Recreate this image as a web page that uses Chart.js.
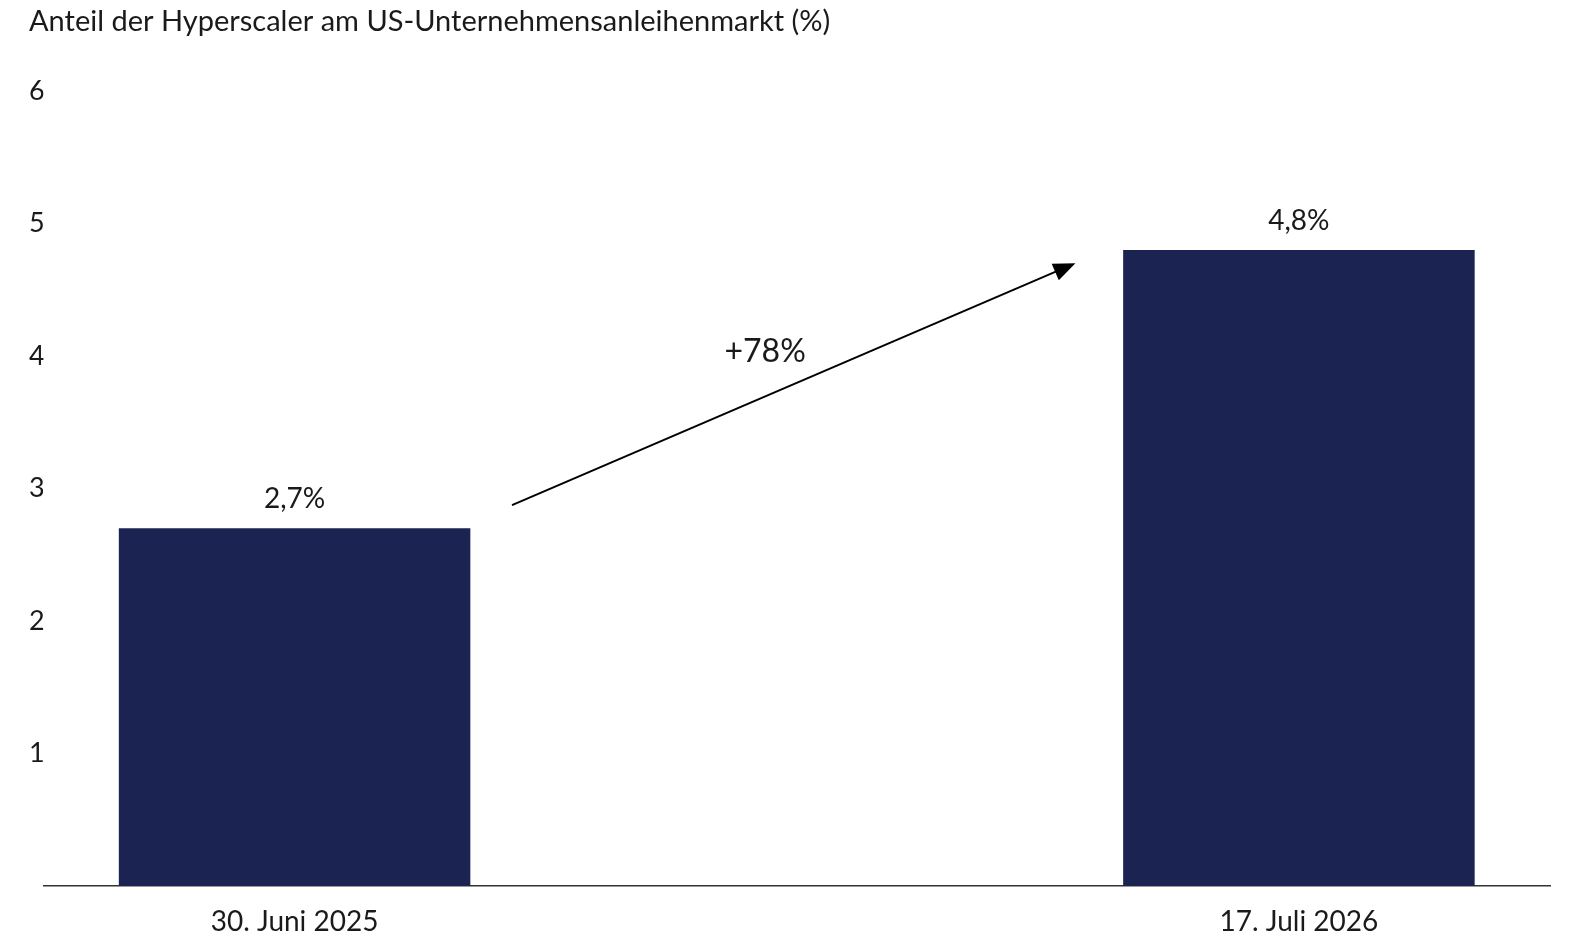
<!DOCTYPE html>
<html lang="de">
<head>
<meta charset="utf-8">
<title>Anteil der Hyperscaler</title>
<script src="https://cdn.jsdelivr.net/npm/chart.js@4.4.1/dist/chart.umd.min.js"></script>
<style>
    html, body { margin: 0; padding: 0; background: #fff; }
    #wrap { width: 1572px; height: 940px; }
</style>
</head>
<body>
<div id="wrap"><canvas id="hyperscalerChart" width="1572" height="940"></canvas></div>
<script>
// data
const titleText = 'Anteil der Hyperscaler am US-Unternehmensanleihenmarkt (%)';
const categories = ['30. Juni 2025', '', '17. Juli 2026'];
const shares = [2.7, null, 4.8];
const yTicks = [0, 1, 2, 3, 4, 5, 6];

// arrow annotation in data units: [category index, value]
const arrowFrom = [0.433, 2.874];
const arrowTo = [1.555, 4.70];
const changeLabel = '+78%';
const changeLabelAt = [0.937, 4.03];

const FONT = 'Lato, "Noto Sans", sans-serif';
const BAR_COLOR = '#1a2352';
const TEXT_COLOR = '#1a1a1a';

function fmt(v) {
    return v.toFixed(1).replace('.', ',') + '%';
}

const annotationPlugin = {
    id: 'annotations',
    afterDatasetsDraw(chart) {
        const ctx = chart.ctx;
        const x = chart.scales.x;
        const y = chart.scales.y;

        // value labels above the bars
        const meta = chart.getDatasetMeta(0);
        ctx.save();
        ctx.fillStyle = TEXT_COLOR;
        ctx.font = '28px ' + FONT;
        ctx.textAlign = 'center';
        ctx.textBaseline = 'middle';
        meta.data.forEach(function (bar, i) {
            if (shares[i] == null) return;
            ctx.fillText(fmt(shares[i]), bar.x, bar.y - 29);
        });

        // arrow
        const x1 = x.getPixelForValue(arrowFrom[0]);
        const y1 = y.getPixelForValue(arrowFrom[1]);
        const x2 = x.getPixelForValue(arrowTo[0]);
        const y2 = y.getPixelForValue(arrowTo[1]);
        const ang = Math.atan2(y2 - y1, x2 - x1);
        const headLen = 22;
        const headW = 9;
        ctx.strokeStyle = '#000';
        ctx.fillStyle = '#000';
        ctx.lineWidth = 2;
        ctx.beginPath();
        ctx.moveTo(x1, y1);
        ctx.lineTo(x2 - Math.cos(ang) * headLen * 0.8, y2 - Math.sin(ang) * headLen * 0.8);
        ctx.stroke();
        ctx.beginPath();
        ctx.moveTo(x2, y2);
        ctx.lineTo(x2 - Math.cos(ang) * headLen + Math.sin(ang) * headW,
                   y2 - Math.sin(ang) * headLen - Math.cos(ang) * headW);
        ctx.lineTo(x2 - Math.cos(ang) * headLen - Math.sin(ang) * headW,
                   y2 - Math.sin(ang) * headLen + Math.cos(ang) * headW);
        ctx.closePath();
        ctx.fill();

        // change label
        ctx.fillStyle = TEXT_COLOR;
        ctx.font = '32px ' + FONT;
        ctx.fillText(changeLabel, x.getPixelForValue(changeLabelAt[0]), y.getPixelForValue(changeLabelAt[1]));
        ctx.restore();
    }
};

document.addEventListener('DOMContentLoaded', function () {
    const canvas = document.getElementById('hyperscalerChart');
    const ctx = canvas.getContext('2d');

    canvas.chart = new Chart(ctx, {
        type: 'bar',
        data: {
            labels: categories,
            datasets: [{
                label: 'Anteil',
                data: shares,
                backgroundColor: BAR_COLOR,
                borderWidth: 0,
                barPercentage: 0.7,
                categoryPercentage: 1.0
            }]
        },
        options: {
            responsive: false,
            animation: false,
            layout: {
                padding: { left: 29, right: 22, top: 0, bottom: 0 }
            },
            scales: {
                x: {
                    offset: true,
                    afterFit: function (s) { s.height = 54; },
                    grid: { display: false, drawTicks: false },
                    border: { display: true, color: '#333', width: 1.5 },
                    ticks: {
                        color: TEXT_COLOR,
                        font: { family: FONT, size: 28 },
                        padding: 19,
                        maxRotation: 0,
                        autoSkip: false
                    }
                },
                y: {
                    min: 0,
                    max: 6,
                    afterFit: function (s) { s.width = 14.5; },
                    afterBuildTicks: function (s) {
                        s.ticks = yTicks.map(function (v) { return { value: v }; });
                    },
                    grid: { display: false, drawTicks: false },
                    border: { display: false },
                    ticks: {
                        color: TEXT_COLOR,
                        font: { family: FONT, size: 27 },
                        crossAlign: 'far',
                        padding: 0,
                        callback: function (v) { return v === 0 ? '' : String(v); }
                    }
                }
            },
            plugins: {
                legend: { display: false },
                tooltip: { enabled: false },
                title: {
                    display: true,
                    text: titleText,
                    align: 'start',
                    color: TEXT_COLOR,
                    font: { family: FONT, size: 29, weight: 'normal' },
                    padding: { top: 4.6, bottom: 51.6 }
                }
            }
        },
        plugins: [annotationPlugin]
    });
});
</script>
</body>
</html>
